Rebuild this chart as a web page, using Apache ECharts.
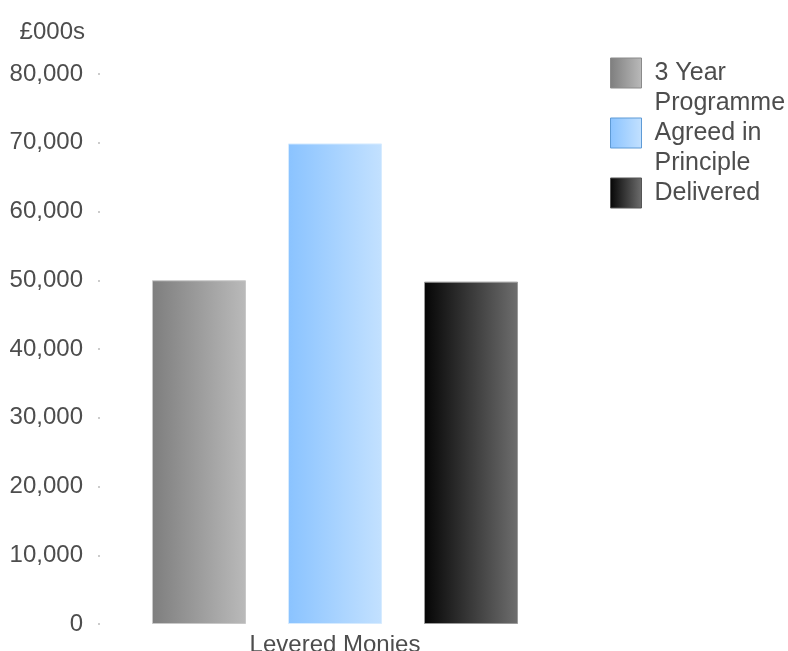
<!DOCTYPE html>
<html>
<head>
<meta charset="utf-8">
<script src="https://cdn.jsdelivr.net/npm/echarts@6/dist/echarts.min.js"></script>
<style>
html,body{margin:0;padding:0;background:#fff;}
#c{width:788px;height:651px;}
</style>
</head>
<body>
<div id="c"></div>
<script>
var categories = ['Levered Monies'];
var seriesNames = ['3 Year\nProgramme', 'Agreed in\nPrinciple', 'Delivered'];
var programme = [50000];
var agreed = [69900];
var delivered = [49800];
var yTicks = [0, 10000, 20000, 30000, 40000, 50000, 60000, 70000, 80000];
var unitLabel = '£000s';

var FONT = 'Liberation Sans';
var TXT = '#4d4d4d';

function grad(a, b) {
  return new echarts.graphic.LinearGradient(0, 0, 1, 0, [
    {offset: 0, color: a}, {offset: 1, color: b}
  ]);
}

var styles = [
  {color: grad('#7e7e7e', '#bababa'), borderColor: '#c8c8c8'},
  {color: grad('#8ac3ff', '#c3e1ff'), borderColor: '#d6ebff'},
  {color: grad('#050505', '#6e6e6e'), borderColor: '#9a9a9a'}
];
var legendBorders = ['#8a8a8a', '#5f9bd6', '#555555'];
var values = [programme, agreed, delivered];

var chart = echarts.init(document.getElementById('c'), null, {renderer: 'canvas'});
var series = seriesNames.map(function (n, i) {
  return {
    name: n,
    type: 'bar',
    data: values[i],
    barWidth: 94,
    barGap: '44.7%',
    itemStyle: {color: styles[i].color, borderColor: styles[i].borderColor, borderWidth: 1},
    emphasis: {disabled: true}
  };
});

chart.setOption({
  animation: false,
  backgroundColor: '#ffffff',
  grid: {left: 100, right: 218, top: 74, bottom: 27, containLabel: false, outerBoundsMode: 'none'},
  legend: {
    orient: 'vertical',
    left: 605,
    top: 23,
    itemWidth: 31,
    itemHeight: 30,
    itemGap: -30,
    icon: 'rect',
    selectedMode: false,
    data: seriesNames.map(function (n, i) {
      return {
        name: n,
        itemStyle: {borderColor: legendBorders[i], borderWidth: 1}
      };
    }),
    formatter: function (n) { return n.indexOf('\n') >= 0 ? '\n' + n : '\n' + n + '\n '; },
    textStyle: {fontFamily: FONT, fontSize: 25, color: TXT, lineHeight: 30, padding: [0, 0, 0, 8]}
  },
  xAxis: {
    type: 'category',
    data: categories,
    axisLine: {show: false},
    axisTick: {show: false},
    axisLabel: {fontFamily: FONT, fontSize: 24, color: TXT, margin: 9}
  },
  yAxis: {
    type: 'value',
    min: yTicks[0],
    max: yTicks[yTicks.length - 1],
    interval: yTicks[1] - yTicks[0],
    name: unitLabel,
    nameLocation: 'end',
    nameGap: 30,
    nameTextStyle: {fontFamily: FONT, fontSize: 24, color: TXT, align: 'right', padding: [0, 15, 0, 0]},
    axisLine: {show: false},
    axisTick: {show: true, length: 2, lineStyle: {color: '#cccccc', width: 2}},
    splitLine: {show: false},
    axisLabel: {
      fontFamily: FONT, fontSize: 24, color: TXT, margin: 17,
      formatter: function (v) { return v.toLocaleString('en-GB'); }
    }
  },
  series: series
});
</script>
</body>
</html>
